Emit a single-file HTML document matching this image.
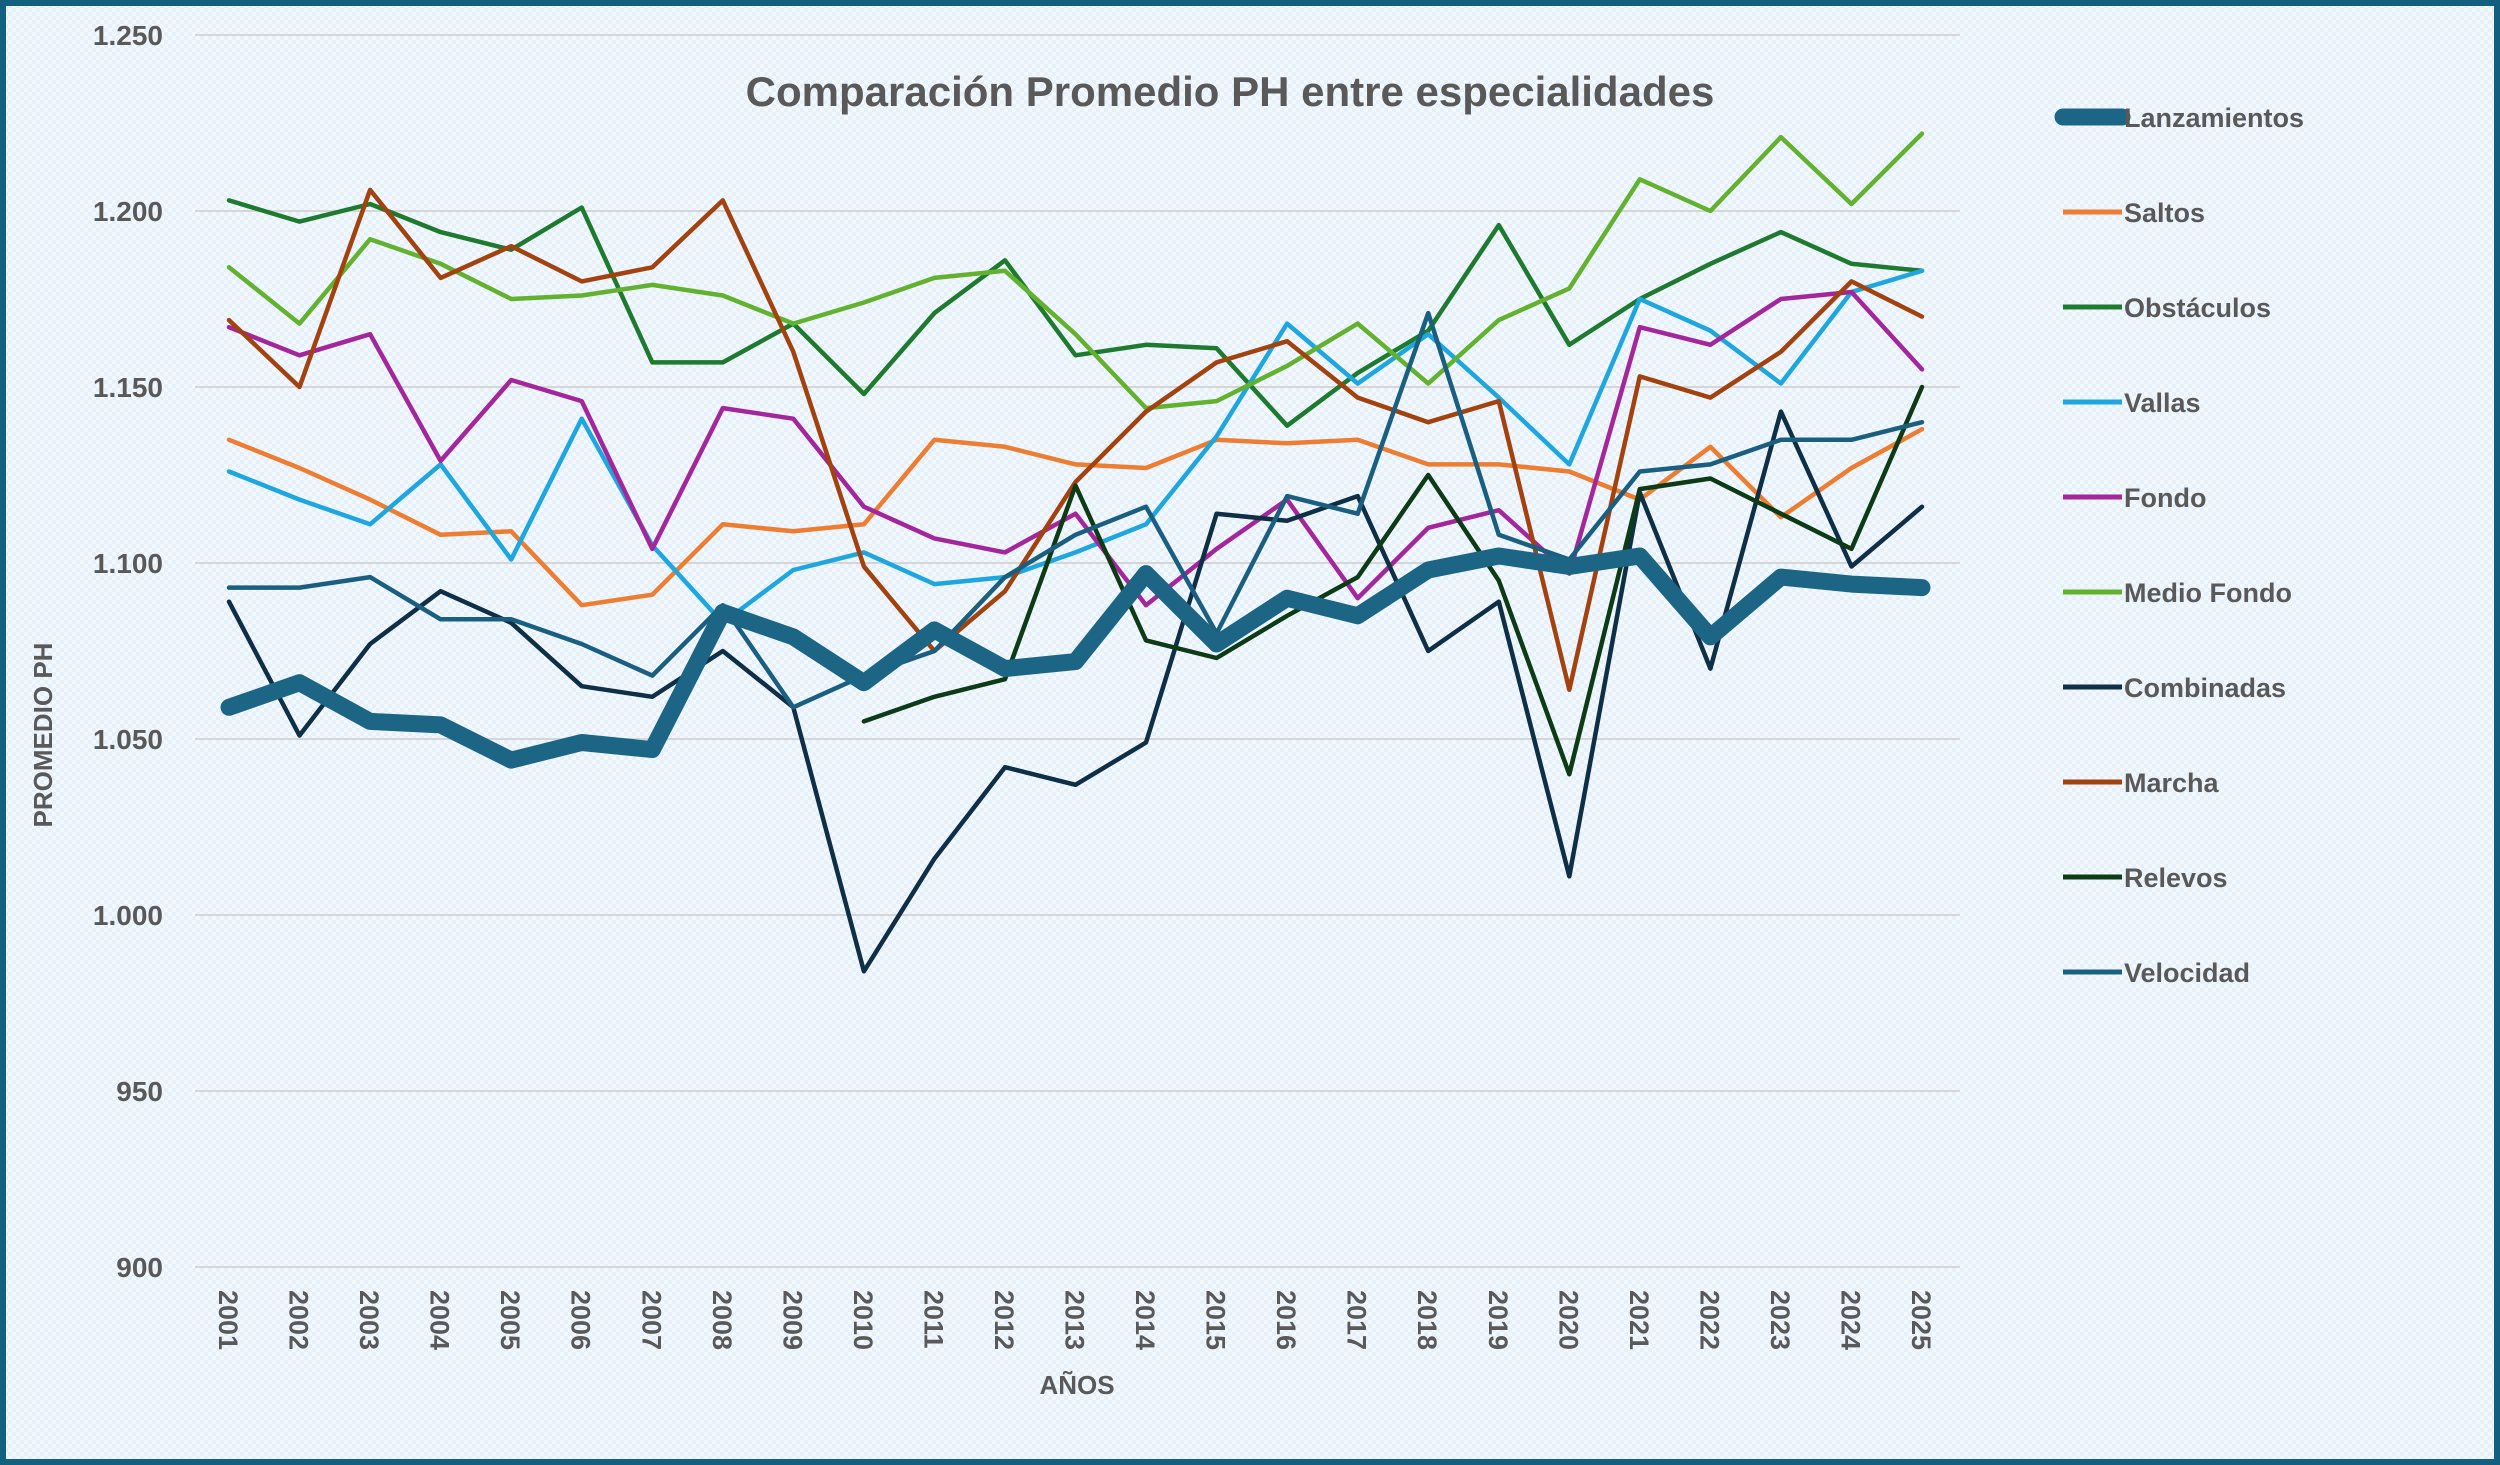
<!DOCTYPE html>
<html><head><meta charset="utf-8"><style>
html,body{margin:0;padding:0;width:2500px;height:1465px;overflow:hidden;background:#fff}
svg{display:block}
text{font-family:"Liberation Sans",sans-serif;font-weight:bold;fill:#595959}
</style></head><body>
<svg id="chart" width="2500" height="1465" viewBox="0 0 2500 1465">
<defs>
<pattern id="bg" width="8" height="8" patternUnits="userSpaceOnUse">
<rect width="8" height="8" fill="#e6f0fa"/>
<rect x="0" y="0" width="4" height="4" fill="#f3f8fd"/>
<rect x="4" y="4" width="4" height="4" fill="#f3f8fd"/>
</pattern>
</defs>
<rect x="3" y="3" width="2494" height="1459" fill="url(#bg)" stroke="#135f80" stroke-width="6"/>
<text x="1230" y="106" font-size="42" text-anchor="middle">Comparación Promedio PH entre especialidades</text>
<g id="grid"></g>
<g id="yticks"></g>
<g id="xticks"></g>
<g id="series"></g>
<g id="legend"></g>
<text transform="translate(52,735) rotate(-90)" font-size="26" text-anchor="middle">PROMEDIO PH</text>
<text x="1077" y="1394" font-size="26" text-anchor="middle">AÑOS</text>
</svg>
<script>
const years = [2001,2002,2003,2004,2005,2006,2007,2008,2009,2010,2011,2012,2013,2014,2015,2016,2017,2018,2019,2020,2021,2022,2023,2024,2025];
const yTickValues = [900,950,1000,1050,1100,1150,1200,1250];
const yTickLabels = ["900","950","1.000","1.050","1.100","1.150","1.200","1.250"];
const seriesNames = ["Lanzamientos","Saltos","Obstáculos","Vallas","Fondo","Medio Fondo","Combinadas","Marcha","Relevos","Velocidad"];
const lanzamientos = [1059,1066,1055,1054,1044,1049,1047,1086,1079,1066,1081,1070,1072,1097,1077,1090,1085,1098,1102,1099,1102,1079,1096,1094,1093];
const saltos = [1135,1127,1118,1108,1109,1088,1091,1111,1109,1111,1135,1133,1128,1127,1135,1134,1135,1128,1128,1126,1118,1133,1113,1127,1138];
const obstaculos = [1203,1197,1202,1194,1189,1201,1157,1157,1168,1148,1171,1186,1159,1162,1161,1139,1154,1166,1196,1162,1175,1185,1194,1185,1183];
const vallas = [1126,1118,1111,1128,1101,1141,1105,1083,1098,1103,1094,1096,1103,1111,1136,1168,1151,1165,1147,1128,1175,1166,1151,1177,1183];
const fondo = [1167,1159,1165,1129,1152,1146,1104,1144,1141,1116,1107,1103,1114,1088,1104,1118,1090,1110,1115,1097,1167,1162,1175,1177,1155];
const medioFondo = [1184,1168,1192,1185,1175,1176,1179,1176,1168,1174,1181,1183,1165,1144,1146,1156,1168,1151,1169,1178,1209,1200,1221,1202,1222];
const combinadas = [1089,1051,1077,1092,1083,1065,1062,1075,1059,984,1016,1042,1037,1049,1114,1112,1119,1075,1089,1011,1120,1070,1143,1099,1116];
const marcha = [1169,1150,1206,1181,1190,1180,1184,1203,1160,1099,1075,1092,1123,1143,1157,1163,1147,1140,1146,1064,1153,1147,1160,1180,1170];
const relevos = [null,null,null,null,null,null,null,null,null,1055,1062,1067,1122,1078,1073,1085,1096,1125,1095,1040,1121,1124,1114,1104,1150];
const velocidad = [1093,1093,1096,1084,1084,1077,1068,1088,1059,1068,1075,1096,1108,1116,1080,1119,1114,1171,1108,1101,1126,1128,1135,1135,1140];

const seriesData = [lanzamientos,saltos,obstaculos,vallas,fondo,medioFondo,combinadas,marcha,relevos,velocidad];
const colors = ["#1c6585","#ed7d31","#1e7a2e","#1ea6df","#a3279b","#62b22f","#0e2f45","#a2420f","#0c3b16","#1a5f80"];
const widths = [17,4.5,4.5,4.5,4.5,4.5,4.5,4.5,4.5,4.5];
const drawOrder = [1,2,3,4,5,6,7,8,9,0];

const NS="http://www.w3.org/2000/svg";
const X0=229, X1=1922, Y0=35, Y1=1267, VMIN=900, VMAX=1250;
function xScale(i){return X0+(X1-X0)*i/(years.length-1);}
function yScale(v){return Y1-(v-VMIN)/(VMAX-VMIN)*(Y1-Y0);}
function mk(tag,attrs,parent){const e=document.createElementNS(NS,tag);for(const k in attrs)e.setAttribute(k,attrs[k]);parent.appendChild(e);return e;}

const grid=document.getElementById('grid'), yt=document.getElementById('yticks'), xt=document.getElementById('xticks');
yTickValues.forEach((v,i)=>{
  const l=mk('line',{x1:195,x2:1960,y1:yScale(v),y2:yScale(v),stroke:'#d6d6d6','stroke-width':2},grid);
  
  
  const t=mk('text',{x:163,y:yScale(v)+10,'font-size':28,'text-anchor':'end'},yt);
  t.textContent=yTickLabels[i];
  
  
});
years.forEach((yr,i)=>{
  const t=mk('text',{transform:`translate(${xScale(i)-10},1290) rotate(90)`,'font-size':27},xt);
  t.textContent=yr;
  
  
});
const sg=document.getElementById('series');
drawOrder.forEach(s=>{
  const d=seriesData[s]; let pts=[];
  d.forEach((v,i)=>{if(v!==null)pts.push(xScale(i).toFixed(1)+','+yScale(v).toFixed(1));});
  const p=mk('polyline',{points:pts.join(' '),fill:'none',stroke:colors[s],'stroke-width':widths[s],'stroke-linejoin':'round','stroke-linecap':'round'},sg);
  
  
});
const lg=document.getElementById('legend');
seriesNames.forEach((n,i)=>{
  const y=117+i*95;
  const g=mk('g',{},lg);
  
  
  mk('line',{x1:2063,x2:2122,y1:y,y2:y,stroke:colors[i],'stroke-width':i===0?17:5,'stroke-linecap':i===0?'round':'butt'},g);
  const t=mk('text',{x:2124,y:y+10,'font-size':27},g);
  t.textContent=n;
});
</script>
</body></html>
